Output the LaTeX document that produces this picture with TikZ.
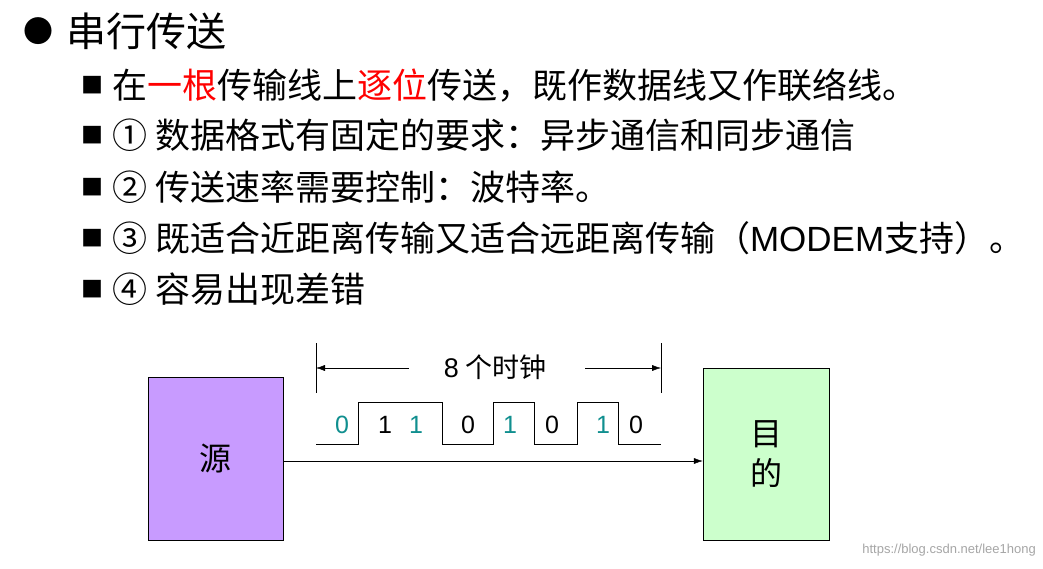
\documentclass[tikz,border=0pt]{standalone}
\usepackage{fontspec}
\setmainfont{Noto Sans CJK SC}
\newfontfamily\latinf{Liberation Sans}
\usetikzlibrary{arrows.meta}
\definecolor{teal1}{HTML}{108F8F}
\begin{document}
\begin{tikzpicture}[x=1pt,y=-1pt,
  line/.style={anchor=west,inner sep=0pt,font=\fontsize{35}{38}\selectfont},
  sq/.style={anchor=center,inner sep=0pt,font=\fontsize{22}{24}\selectfont},
  dig/.style={inner sep=0pt,font=\latinf\fontsize{25}{27}\selectfont}]
\useasboundingbox[fill=white] (0,0) rectangle (1043,569);
\node[inner sep=0pt,font=\fontsize{30}{32}\selectfont] (b0) at (38,31) {●};
\node[line,font=\fontsize{40}{44}\selectfont] (t0) at (66,31) {串行传送};
\foreach \y/\n in {85/1,135/2,187/3,238/4,289/5}{\node[sq] (s\n) at (92,\y) {■};}
\node[line] (l1) at (112,85) {在\textcolor{red}{一根}传输线上\textcolor{red}{逐位}传送，既作数据线又作联络线。};
\node[line] (l2) at (112,135) {① 数据格式有固定的要求：异步通信和同步通信};
\node[line] (l3) at (112,187) {② 传送速率需要控制：波特率。};
\node[line] (l4) at (112,238) {③ 既适合近距离传输又适合远距离传输（{\latinf MODEM}支持）。};
\node[line] (l5) at (112,289) {④ 容易出现差错};
% boxes
\node[draw,fill={rgb,255:red,200;green,155;blue,255},minimum width=135pt,minimum height=163pt,inner sep=0pt,font=\fontsize{32}{34}\selectfont] (src) at (215.5,458.5) {源};
\node[draw,fill={rgb,255:red,204;green,255;blue,204},minimum width=126pt,minimum height=172pt,inner sep=0pt,align=center,font=\fontsize{32}{40}\selectfont] (dst) at (766,454) {目\\的};
\draw[-{Latex[length=9pt,width=6pt]}] (src.east |- 0,461) coordinate (a0) -- (a0 -| dst.west);
% clock
\coordinate (v1t) at (316,343); \coordinate (v1b) at (316,393);
\coordinate (v2t) at (661,343); \coordinate (v2b) at (661,393);
\draw (v1t) -- (v1b); \draw (v2t) -- (v2b);
\node[inner sep=0pt,font=\fontsize{27}{29}\selectfont] (lab) at (495,367) {{\latinf 8} 个时钟};
\draw[-{Latex[length=9pt,width=6pt]}] (409,368) coordinate (la) -- (la -| v1t);
\draw[-{Latex[length=9pt,width=6pt]}] (585,368) coordinate (ra) -- (ra -| v2t);
% waveform
\draw (316,444) -- (358,444) -- (358,402) -- (442,402) -- (442,444) -- (493,444) -- (493,402) -- (534,402) -- (534,444) -- (577,444) -- (577,402) -- (618,402) -- (618,444) -- (661,444);
\node[dig,teal1] (d1) at (342,425) {0};
\node[dig] (d2) at (385,425) {1};
\node[dig,teal1] (d3) at (416,425) {1};
\node[dig] (d4) at (468,425) {0};
\node[dig,teal1] (d5) at (510,425) {1};
\node[dig] (d6) at (552,425) {0};
\node[dig,teal1] (d7) at (603,425) {1};
\node[dig] (d8) at (636,425) {0};
\node[anchor=east,inner sep=0pt,text=black!35,font=\latinf\fontsize{13}{14}\selectfont] (wm) at (1036,550) {https://blog.csdn.net/lee1hong};
\end{tikzpicture}
\end{document}
